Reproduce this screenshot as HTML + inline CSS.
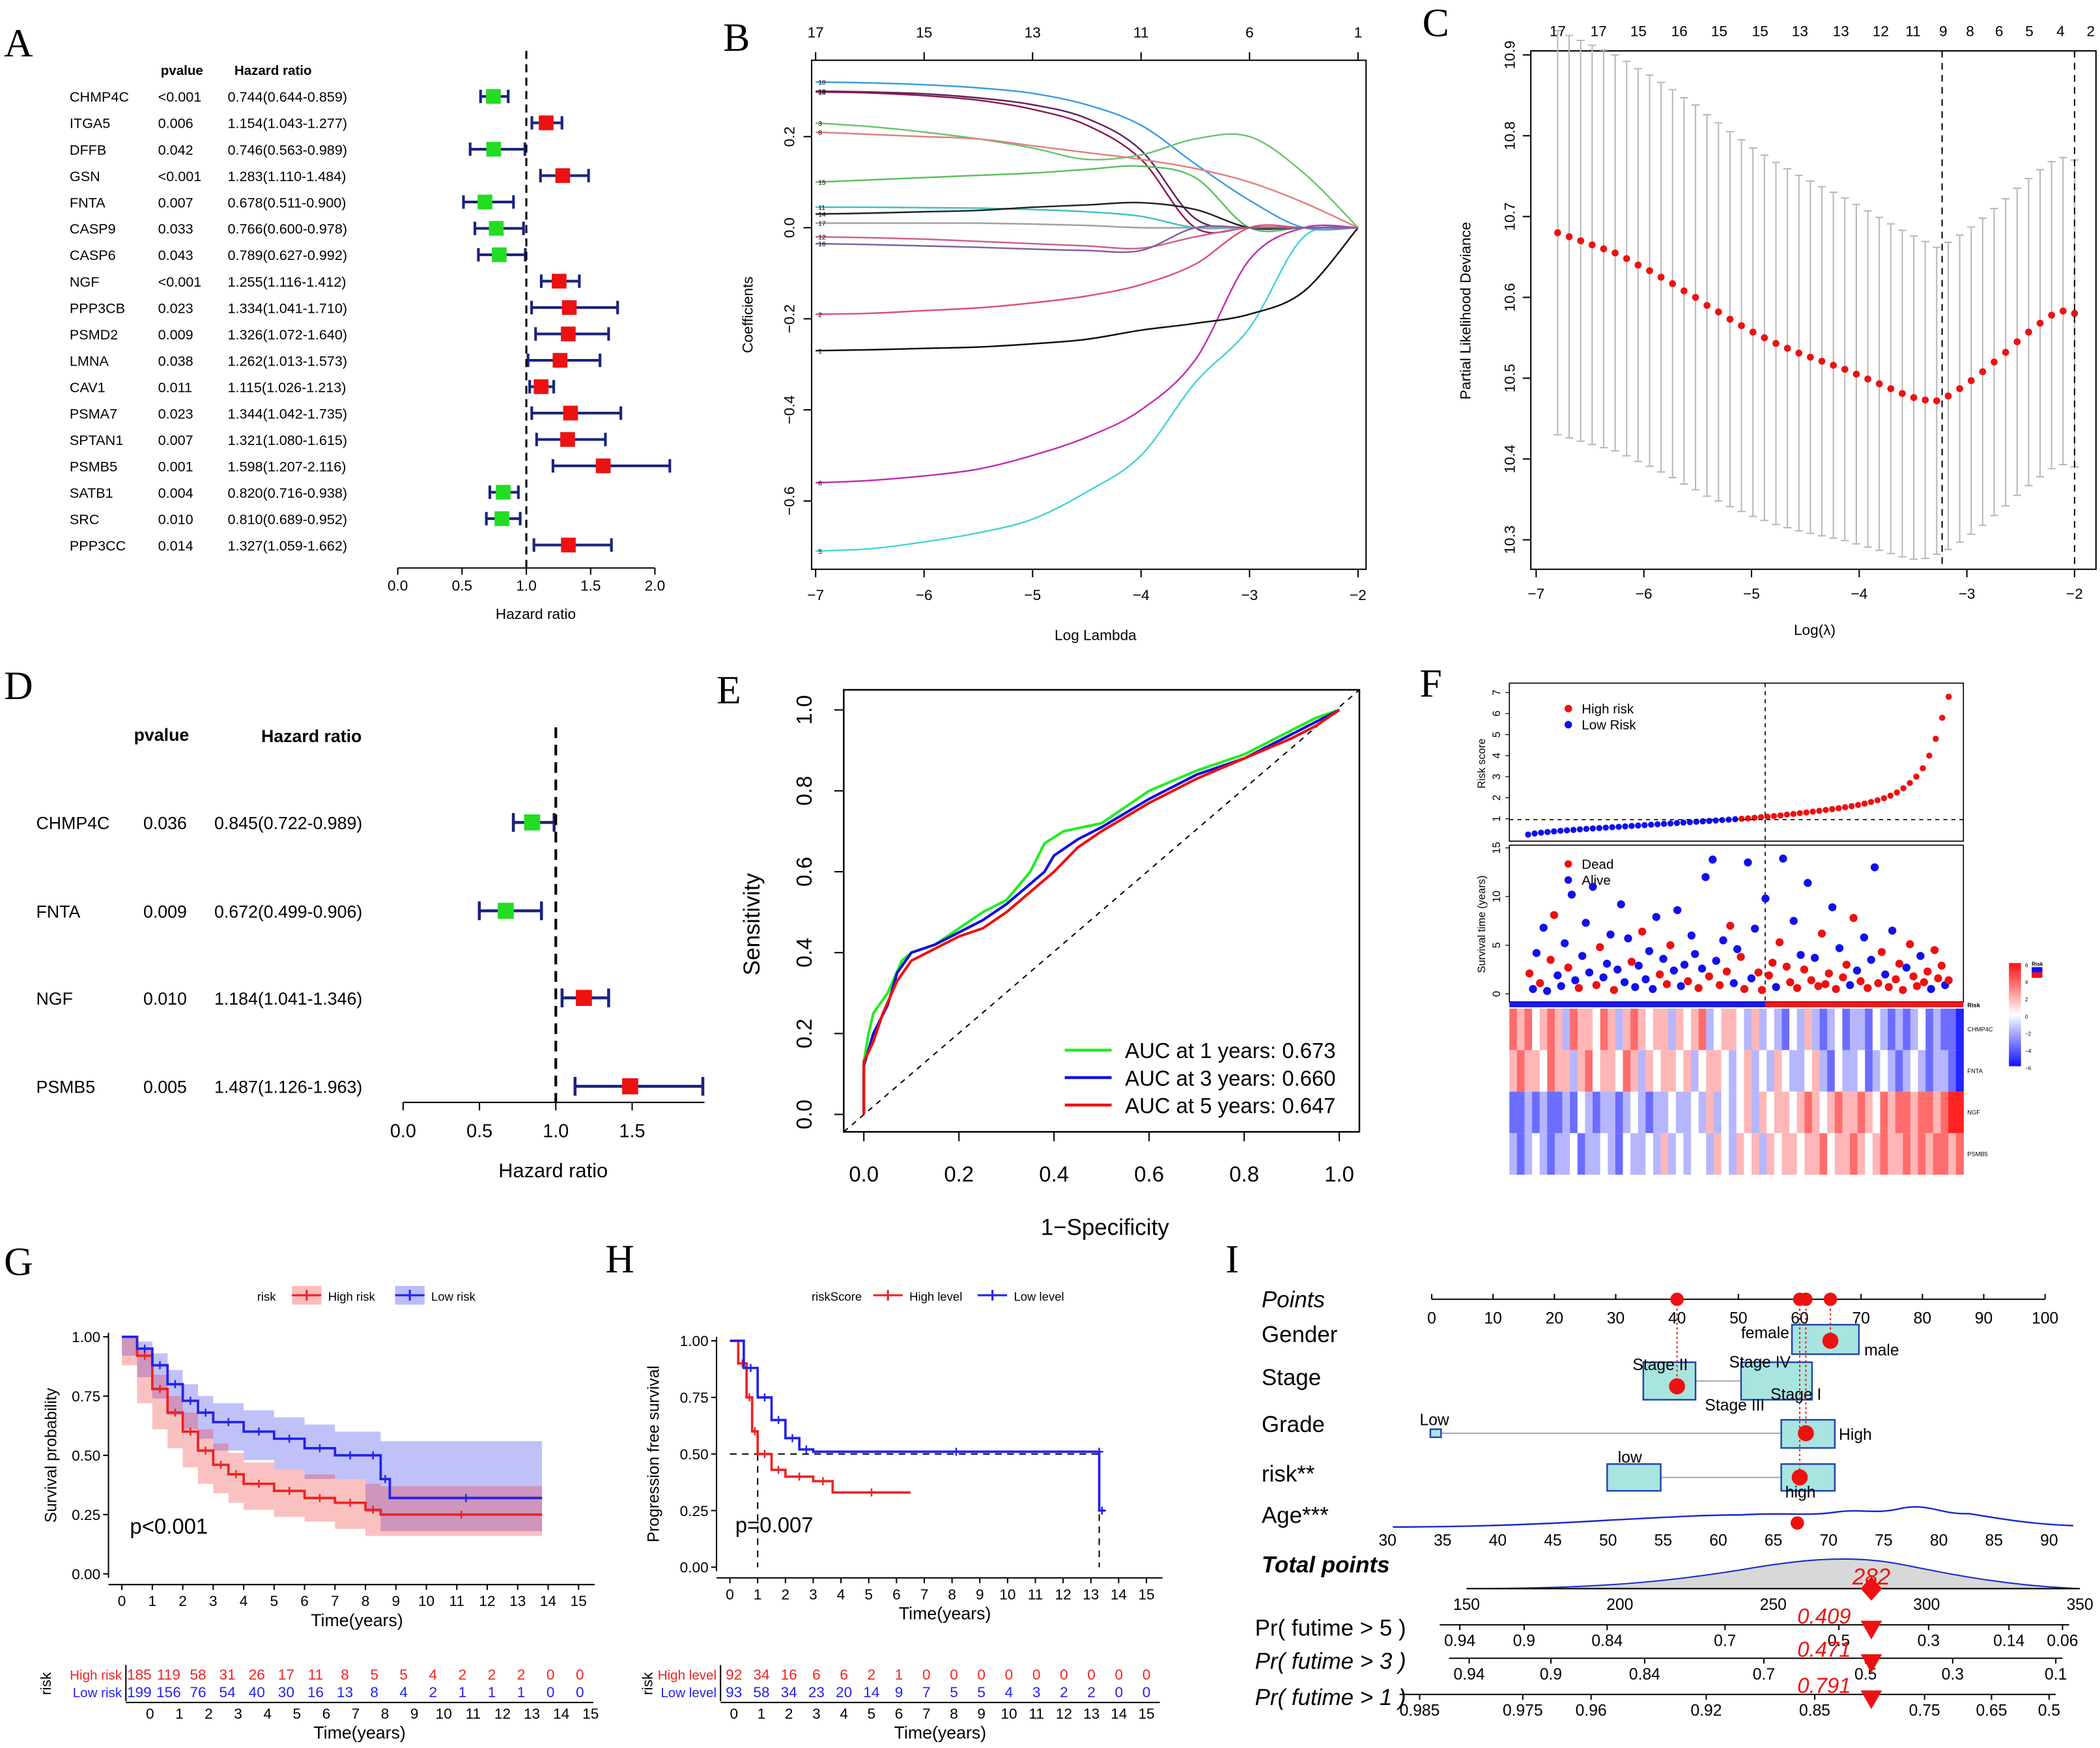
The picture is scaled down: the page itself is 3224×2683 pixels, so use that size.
<!DOCTYPE html>
<html><head><meta charset="utf-8"><style>
html,body{margin:0;padding:0;background:#fff}
svg{display:block;font-family:"Liberation Sans",Arial,sans-serif}
.pl{font-family:"Liberation Serif",serif;font-size:30px}
</style></head><body>
<svg id="fig" width="3224" height="2683" viewBox="0 0 1568 1305" preserveAspectRatio="none" xmlns="http://www.w3.org/2000/svg">
<rect x="0" y="0" width="1568" height="1305" fill="#fff"/>
<text class="pl" x="3" y="42">A</text>
<text class="pl" x="540" y="38">B</text>
<text class="pl" x="1062" y="27">C</text>
<text class="pl" x="3" y="522">D</text>
<text class="pl" x="535" y="525">E</text>
<text class="pl" x="1060" y="520">F</text>
<text class="pl" x="3" y="952">G</text>
<text class="pl" x="452" y="950">H</text>
<text class="pl" x="915" y="950">I</text>
</svg>
<script>
// ---------- DATA ----------
const genesA=['CHMP4C','ITGA5','DFFB','GSN','FNTA','CASP9','CASP6','NGF','PPP3CB','PSMD2','LMNA','CAV1','PSMA7','SPTAN1','PSMB5','SATB1','SRC','PPP3CC'];
const pA=['<0.001','0.006','0.042','<0.001','0.007','0.033','0.043','<0.001','0.023','0.009','0.038','0.011','0.023','0.007','0.001','0.004','0.010','0.014'];
const hrA=[0.744,1.154,0.746,1.283,0.678,0.766,0.789,1.255,1.334,1.326,1.262,1.115,1.344,1.321,1.598,0.820,0.810,1.327];
const loA=[0.644,1.043,0.563,1.110,0.511,0.600,0.627,1.116,1.041,1.072,1.013,1.026,1.042,1.080,1.207,0.716,0.689,1.059];
const hiA=[0.859,1.277,0.989,1.484,0.900,0.978,0.992,1.412,1.710,1.640,1.573,1.213,1.735,1.615,2.116,0.938,0.952,1.662];
const ticksA=[0,0.5,1,1.5,2];

const genesD=['CHMP4C','FNTA','NGF','PSMB5'];
const pD=['0.036','0.009','0.010','0.005'];
const hrD=[0.845,0.672,1.184,1.487];
const loD=[0.722,0.499,1.041,1.126];
const hiD=[0.989,0.906,1.346,1.963];
const ticksD=[0,0.5,1,1.5];

const lamB=[-7,-6.5,-6,-5.5,-5,-4.5,-4,-3.5,-3,-2.5,-2];
const coefB=[
 [-0.71,-0.705,-0.69,-0.67,-0.64,-0.58,-0.50,-0.34,-0.22,-0.02,0],
 [-0.56,-0.555,-0.545,-0.53,-0.50,-0.46,-0.40,-0.29,-0.07,0,0],
 [-0.27,-0.268,-0.265,-0.262,-0.255,-0.245,-0.225,-0.21,-0.19,-0.14,0],
 [-0.19,-0.188,-0.182,-0.176,-0.165,-0.15,-0.125,-0.08,0,0,0],
 [0.32,0.318,0.314,0.307,0.295,0.27,0.225,0.14,0.06,0,0],
 [0.30,0.298,0.294,0.285,0.27,0.24,0.17,0.02,0,0,0],
 [0.298,0.296,0.29,0.28,0.26,0.225,0.15,0,0,0,0],
 [0.23,0.222,0.21,0.195,0.175,0.15,0.16,0.195,0.2,0.12,0],
 [0.21,0.205,0.2,0.195,0.18,0.165,0.15,0.13,0.10,0.055,0],
 [0.10,0.105,0.11,0.115,0.12,0.128,0.135,0.11,0,0,0],
 [0.045,0.045,0.044,0.043,0.04,0.035,0.025,0,0,0,0],
 [0.03,0.032,0.035,0.038,0.045,0.05,0.055,0.04,0,0,0],
 [0.01,0.01,0.01,0.01,0.008,0.005,0,0,0,0,0],
 [-0.02,-0.022,-0.025,-0.03,-0.035,-0.04,-0.045,-0.02,0,0,0],
 [-0.035,-0.037,-0.04,-0.043,-0.047,-0.05,-0.05,0,0,0,0]];
const labB=['5','6','1','2','10','19','18','3','8','15','11','14','17','12','16'];
const colB=['#44d4d4','#c030b0','#111111','#e05070','#3a9ee0','#602060','#8b1a4a','#6cc46c','#e08080','#5cc05c','#40c0c0','#222222','#a0a0a0','#d06090','#8060a0'];
const topB=['17','15','13','11','6','1'];
const topBx=[-7,-6,-5,-4,-3,-2];

const meanC=[10.68,10.675,10.67,10.665,10.66,10.655,10.648,10.64,10.633,10.625,10.617,10.608,10.60,10.59,10.582,10.573,10.565,10.557,10.55,10.543,10.537,10.531,10.526,10.521,10.516,10.511,10.505,10.499,10.493,10.487,10.481,10.476,10.473,10.472,10.478,10.487,10.497,10.508,10.52,10.532,10.545,10.557,10.568,10.578,10.583,10.58];
const seC=[0.25,0.249,0.248,0.247,0.246,0.245,0.244,0.243,0.242,0.241,0.24,0.239,0.238,0.236,0.234,0.232,0.23,0.228,0.226,0.224,0.222,0.22,0.218,0.216,0.214,0.212,0.21,0.208,0.206,0.204,0.202,0.2,0.196,0.19,0.19,0.19,0.19,0.19,0.19,0.19,0.19,0.19,0.19,0.19,0.19,0.19];
const topC=['17','17','15','16','15','15','13','13','12','11','9','8','6','5','4','2'];
const topCx=[-6.8,-6.42,-6.05,-5.67,-5.3,-4.92,-4.55,-4.17,-3.8,-3.5,-3.22,-2.97,-2.7,-2.42,-2.13,-1.85];

const fprG=[0,0,0.01,0.02,0.05,0.08,0.1,0.15,0.2,0.25,0.3,0.35,0.38,0.42,0.5,0.55,0.6,0.7,0.8,0.9,0.95,1];
const tprG=[0,0.13,0.2,0.25,0.3,0.38,0.4,0.42,0.46,0.5,0.53,0.6,0.67,0.7,0.72,0.76,0.8,0.85,0.89,0.95,0.98,1];
const fprBl=[0,0,0.02,0.05,0.07,0.1,0.15,0.2,0.25,0.3,0.35,0.38,0.4,0.45,0.5,0.6,0.7,0.8,0.9,0.95,1];
const tprBl=[0,0.12,0.2,0.27,0.35,0.4,0.42,0.45,0.48,0.52,0.57,0.6,0.64,0.68,0.71,0.78,0.84,0.88,0.94,0.97,1];
const fprR=[0,0,0.02,0.04,0.07,0.1,0.15,0.2,0.25,0.3,0.35,0.4,0.45,0.5,0.6,0.7,0.8,0.9,0.95,1];
const tprR=[0,0.13,0.18,0.25,0.33,0.38,0.41,0.44,0.46,0.5,0.55,0.6,0.66,0.7,0.77,0.83,0.88,0.93,0.96,1];
const aucLabels=['AUC at 1 years: 0.673','AUC at 3 years: 0.660','AUC at 5 years: 0.647'];

const riskF=[0.25,0.3,0.34,0.37,0.4,0.43,0.45,0.47,0.5,0.52,0.54,0.56,0.58,0.6,0.62,0.64,0.66,0.68,0.7,0.72,0.74,0.76,0.78,0.8,0.82,0.84,0.86,0.88,0.9,0.92,0.94,0.96,0.98,1.0,1.02,1.05,1.08,1.1,1.13,1.16,1.2,1.23,1.27,1.3,1.34,1.38,1.42,1.46,1.5,1.55,1.6,1.66,1.72,1.8,1.88,1.98,2.1,2.25,2.45,2.7,3.0,3.4,4.0,4.8,5.8,6.8];
const survT=[2.1,0.5,4.2,1.1,6.8,0.3,3.5,8.1,1.9,0.8,5.2,2.7,10.2,1.4,0.6,3.9,7.3,2.2,11.0,0.9,4.8,1.7,3.1,6.1,0.4,2.5,9.2,1.2,5.7,3.3,0.7,2.9,6.4,1.5,4.4,0.5,7.9,2.0,3.6,1.0,5.0,2.4,8.6,0.8,3.0,1.3,6.0,4.1,0.6,2.6,12.0,1.8,13.8,3.4,0.9,5.5,2.3,7.0,1.1,4.6,
 3.8,0.5,13.5,1.6,6.7,2.2,0.4,9.8,1.9,3.2,0.7,5.3,13.9,2.8,1.2,7.5,0.6,4.0,2.5,11.4,1.4,3.7,0.8,6.2,1.0,2.1,8.9,0.5,4.7,1.7,3.0,0.9,7.8,2.4,1.3,5.8,0.6,3.5,13.0,1.1,4.3,2.0,0.7,6.5,1.5,3.1,0.4,2.7,5.1,1.8,0.8,3.9,1.2,2.3,0.5,4.5,1.6,2.9,0.9,1.4];
const survS=[1,0,0,1,0,0,1,1,0,0,0,1,0,0,1,0,0,0,0,1,1,0,0,0,1,0,0,0,0,1,0,0,1,0,0,0,0,1,0,1,1,0,0,0,0,1,0,0,1,0,0,1,0,0,1,0,1,1,0,0,
 1,1,0,0,0,1,1,0,1,1,0,1,0,1,1,0,1,0,1,0,1,0,1,1,1,1,0,1,0,1,1,0,1,0,1,0,1,0,0,1,1,0,1,0,1,1,1,0,1,1,1,0,1,1,0,1,1,1,0,1];
const heatGenes=['CHMP4C','FNTA','NGF','PSMB5'];
const heatV=[
 [2,1,2,0,1,2,1,-1,2,1,1,0,2,1,-1,1,2,1,0,1,1,-1,1,0,1,2,-1,0,1,1,0,-1,1,-1,0,-1,-2,0,-1,1,-1,-2,-1,0,-2,-1,-1,-2,0,-1,-2,-1,-2,-1,0,-2,-1,-2,-2,-3],
 [1,2,1,1,0,2,1,1,-1,1,2,0,1,1,0,2,1,-1,1,0,1,1,0,1,-1,0,1,1,0,-1,0,1,-1,0,-1,1,0,-1,-1,0,1,-1,-2,0,-1,-1,0,-2,-1,0,-1,-2,-1,0,-1,-2,-1,-1,-2,-3],
 [-2,-2,-1,-2,-1,-2,-2,-1,-2,0,-1,-2,-1,-1,-2,-1,0,-1,-2,-1,-1,0,-1,-1,0,-1,1,-1,0,-1,0,1,-1,1,0,1,1,0,1,2,1,0,1,2,1,1,2,1,0,2,1,2,2,1,2,2,1,2,3,3],
 [-1,-2,-1,0,-1,-2,-1,-1,0,-2,-1,-1,0,-1,-2,0,-1,-1,0,-1,1,-1,0,-1,0,0,-1,1,0,-1,1,0,1,-1,1,0,1,1,0,1,1,2,0,1,1,2,1,0,1,2,1,1,2,1,2,1,2,2,1,2]];

const tHighG=[0,0.5,1,1.5,2,2.5,3,3.5,4,5,6,7,8,8.5,13.8];
const sHighG=[1,0.92,0.78,0.68,0.6,0.52,0.46,0.42,0.38,0.35,0.32,0.3,0.27,0.25,0.25];
const uHighG=[1,0.95,0.84,0.75,0.68,0.61,0.55,0.51,0.47,0.44,0.42,0.4,0.38,0.37,0.37];
const lHighG=[1,0.88,0.72,0.61,0.53,0.45,0.38,0.34,0.3,0.27,0.24,0.22,0.19,0.16,0.16];
const tLowG=[0,0.5,1,1.5,2,2.5,3,4,5,6,7,8,8.5,8.8,13.8];
const sLowG=[1,0.95,0.88,0.8,0.73,0.68,0.64,0.6,0.57,0.53,0.5,0.5,0.4,0.32,0.32];
const uLowG=[1,0.98,0.93,0.86,0.8,0.75,0.72,0.69,0.66,0.63,0.6,0.6,0.56,0.56,0.56];
const lLowG=[1,0.92,0.83,0.74,0.67,0.61,0.57,0.52,0.48,0.44,0.4,0.4,0.26,0.18,0.18];
const nHighG=[185,119,58,31,26,17,11,8,5,5,4,2,2,2,0,0];
const nLowG=[199,156,76,54,40,30,16,13,8,4,2,1,1,1,0,0];

const tHighH=[0,0.3,0.6,0.8,1,1.5,2,3,3.7,6.5];
const sHighH=[1,0.9,0.75,0.6,0.5,0.43,0.4,0.38,0.33,0.33];
const tLowH=[0,0.5,1,1.5,2,2.5,3,13.3,13.3,13.5];
const sLowH=[1,0.88,0.75,0.65,0.57,0.52,0.51,0.51,0.25,0.25];
const nHighH=[92,34,16,6,6,2,1,0,0,0,0,0,0,0,0,0];
const nLowH=[93,58,34,23,20,14,9,7,5,5,4,3,2,2,0,0];

const ptsI=[65,40,61,60];
const ageTicks=[30,35,40,45,50,55,60,65,70,75,80,85,90];
const totTicks=[150,200,250,300,350];
const pr5Lab=['0.94','0.9','0.84','0.7','0.5','0.3','0.14','0.06'];
const pr5X=[1090,1138,1200,1288,1373,1440,1500,1540];
const pr3Lab=['0.94','0.9','0.84','0.7','0.5','0.3','0.1'];
const pr3X=[1097,1158,1228,1317,1393,1458,1535];
const pr1Lab=['0.985','0.975','0.96','0.92','0.85','0.75','0.65','0.5'];
const pr1X=[1060,1137,1188,1274,1355,1437,1487,1530];
const totalI=282;

// ---------- HELPERS ----------
const S=document.getElementById('fig');
const NS='http://www.w3.org/2000/svg';
function mk(p,t,a,txt){const e=document.createElementNS(NS,t);for(const k in a)e.setAttribute(k,a[k]);if(txt!==undefined)e.textContent=txt;p.appendChild(e);return e;}
function lin(d0,d1,r0,r1){return v=>r0+(v-d0)*(r1-r0)/(d1-d0);}
function G(){return mk(S,'g',{});}
function smooth(pts){let d='M'+pts[0][0]+','+pts[0][1];for(let i=0;i<pts.length-1;i++){const p0=pts[Math.max(0,i-1)],p1=pts[i],p2=pts[i+1],p3=pts[Math.min(pts.length-1,i+2)];d+=' C'+(p1[0]+(p2[0]-p0[0])/6)+','+(p1[1]+(p2[1]-p0[1])/6)+' '+(p2[0]-(p3[0]-p1[0])/6)+','+(p2[1]-(p3[1]-p1[1])/6)+' '+p2[0]+','+p2[1];}return d;}
function stepPath(ts,ss,x,y){let d='M'+x(ts[0])+','+y(ss[0]);for(let i=1;i<ts.length;i++){d+=' H'+x(ts[i])+' V'+y(ss[i]);}return d;}
function txt(p,x,y,s,size,o){const a=Object.assign({x:x,y:y,'font-size':size},o||{});return mk(p,'text',a,s);}

// ---------- PANEL A ----------
(function(){
 const g=G();
 
 
 const x=lin(0,2,297,489);
 const rowY=i=>72+i*19.7;
 let h=txt(g,120,56,'pvalue',10,{'font-weight':'bold'});
 
 
 h=txt(g,175,56,'Hazard ratio',10,{'font-weight':'bold'});
 
 
 genesA.forEach((gn,i)=>{
  const y=rowY(i);
  let t=txt(g,52,y+4,gn,10.5);
  
  
  t=txt(g,118,y+4,pA[i],10.5);
  
  
  t=txt(g,170,y+4,hrA[i].toFixed(3)+'('+loA[i].toFixed(3)+'-'+hiA[i].toFixed(3)+')',10.5);
  
  
  const ci=mk(g,'path',{d:'M'+x(loA[i])+','+y+' H'+x(hiA[i])+' M'+x(loA[i])+','+(y-5)+' V'+(y+5)+' M'+x(hiA[i])+','+(y-5)+' V'+(y+5),stroke:'#1a237e','stroke-width':2,fill:'none'});
  
  
  const sq=mk(g,'rect',{x:x(hrA[i])-5.5,y:y-5.5,width:11,height:11,fill:hrA[i]<1?'#22dd22':'#ee1111'});
  
  
 });
 const dl=mk(g,'line',{x1:x(1),x2:x(1),y1:38,y2:424,stroke:'#000','stroke-width':1.5,'stroke-dasharray':'6,4'});
 
 
 const ax=mk(g,'line',{x1:x(0),x2:x(2),y1:424,y2:424,stroke:'#000'});
 
 
 ticksA.forEach(v=>{
  const tk=mk(g,'line',{x1:x(v),x2:x(v),y1:424,y2:429,stroke:'#000'});
  
  
  const tl=txt(g,x(v),441,v.toFixed(1),11,{'text-anchor':'middle'});
  
  
 });
 const at=txt(g,400,462,'Hazard ratio',11,{'text-anchor':'middle'});
 
 
})();

// ---------- PANEL D ----------
(function(){
 const g=G();
 
 
 const x=lin(0,1.5,301,472);
 const rows=[614,680,745,811];
 let h=txt(g,100,553,'pvalue',13,{'font-weight':'bold'});
 
 
 h=txt(g,195,554,'Hazard ratio',13,{'font-weight':'bold'});
 
 
 genesD.forEach((gn,i)=>{
  const y=rows[i];
  let t=txt(g,27,y+5,gn,13);
  
  
  t=txt(g,107,y+5,pD[i],13);
  
  
  t=txt(g,160,y+5,hrD[i].toFixed(3)+'('+loD[i].toFixed(3)+'-'+hiD[i].toFixed(3)+')',13);
  
  
  const ci=mk(g,'path',{d:'M'+x(loD[i])+','+y+' H'+x(hiD[i])+' M'+x(loD[i])+','+(y-7)+' V'+(y+7)+' M'+x(hiD[i])+','+(y-7)+' V'+(y+7),stroke:'#1a237e','stroke-width':2.2,fill:'none'});
  
  
  const sq=mk(g,'rect',{x:x(hrD[i])-6,y:y-6,width:12,height:12,fill:hrD[i]<1?'#22dd22':'#ee1111'});
  
  
 });
 const dl=mk(g,'line',{x1:x(1),x2:x(1),y1:543,y2:823,stroke:'#000','stroke-width':2,'stroke-dasharray':'8,5'});
 
 
 const ax=mk(g,'line',{x1:x(0),x2:526,y1:823,y2:823,stroke:'#000'});
 
 
 ticksD.forEach(v=>{
  const tk=mk(g,'line',{x1:x(v),x2:x(v),y1:823,y2:829,stroke:'#000'});
  
  
  const tl=txt(g,x(v),849,v.toFixed(1),14,{'text-anchor':'middle'});
  
  
 });
 const at=txt(g,413,879,'Hazard ratio',15,{'text-anchor':'middle'});
 
 
})();

// ---------- PANEL B ----------
(function(){
 const g=G();
 
 
 const x=lin(-7,-2,609,1014), y=lin(0,0.2,170,102);
 const fr=mk(g,'rect',{x:606,y:45,width:414,height:380,fill:'none',stroke:'#000'});
 
 
 coefB.forEach((c,k)=>{
  const p=mk(g,'path',{d:smooth(lamB.map((l,i)=>[x(l),y(c[i])])),fill:'none',stroke:colB[k],'stroke-width':1.2});
  
  
  const lb=txt(g,611,y(c[0])+2,labB[k],5);
  
  
 });
 [-7,-6,-5,-4,-3,-2].forEach(v=>{
  const tk=mk(g,'line',{x1:x(v),x2:x(v),y1:425,y2:431,stroke:'#000'});
  
  
  const tl=txt(g,x(v),448,String(v).replace('-','−'),11,{'text-anchor':'middle'});
  
  
 });
 topB.forEach((s,i)=>{
  const tk=mk(g,'line',{x1:x(topBx[i]),x2:x(topBx[i]),y1:45,y2:39,stroke:'#000'});
  
  
  const tl=txt(g,x(topBx[i]),28,s,11,{'text-anchor':'middle'});
  
  
 });
 [0.2,0,-0.2,-0.4,-0.6].forEach(v=>{
  const tk=mk(g,'line',{x1:600,x2:606,y1:y(v),y2:y(v),stroke:'#000'});
  
  
  const tl=txt(g,0,0,(v<0?'−':'')+Math.abs(v).toFixed(1),11,{'text-anchor':'middle',transform:'translate(593,'+y(v)+') rotate(-90)'});
  
  
 });
 const yt=txt(g,0,0,'Coefficients',11,{'text-anchor':'middle',transform:'translate(562,235) rotate(-90)'});
 
 
 const xt=txt(g,818,478,'Log Lambda',11,{'text-anchor':'middle'});
 
 
})();

// ---------- PANEL C ----------
(function(){
 const g=G();
 
 
 const x=lin(-7,-2,1147,1549), y=lin(10.3,10.9,403,41);
 const fr=mk(g,'rect',{x:1143,y:38,width:422,height:387,fill:'none',stroke:'#000'});
 
 
 meanC.forEach((m,i)=>{
  const l=-6.8+i*(4.8/(meanC.length-1));
  const xx=x(l), up=y(m+seC[i]), lo=y(m-seC[i]);
  const eb=mk(g,'path',{d:'M'+xx+','+up+' V'+lo+' M'+(xx-3)+','+up+' H'+(xx+3)+' M'+(xx-3)+','+lo+' H'+(xx+3),stroke:'#b8b8b8','stroke-width':1,fill:'none'});
  
  
 });
 meanC.forEach((m,i)=>{
  const l=-6.8+i*(4.8/(meanC.length-1));
  const d=mk(g,'circle',{cx:x(l),cy:y(m),r:2.6,fill:'#ee1111'});
  
  
 });
 [-3.23,-2.0].forEach(v=>{
  const dl=mk(g,'line',{x1:x(v),x2:x(v),y1:38,y2:425,stroke:'#000','stroke-dasharray':'5,4'});
  
  
 });
 [-7,-6,-5,-4,-3,-2].forEach(v=>{
  const tk=mk(g,'line',{x1:x(v),x2:x(v),y1:425,y2:431,stroke:'#000'});
  
  
  const tl=txt(g,x(v),447,String(v).replace('-','−'),11,{'text-anchor':'middle'});
  
  
 });
 topC.forEach((s,i)=>{
  const tl=txt(g,x(topCx[i]),27,s,11,{'text-anchor':'middle'});
  
  
 });
 [10.3,10.4,10.5,10.6,10.7,10.8,10.9].forEach(v=>{
  const tk=mk(g,'line',{x1:1137,x2:1143,y1:y(v),y2:y(v),stroke:'#000'});
  
  
  const tl=txt(g,0,0,v.toFixed(1),11,{'text-anchor':'middle',transform:'translate(1131,'+y(v)+') rotate(-90)'});
  
  
 });
 const yt=txt(g,0,0,'Partial Likelihood Deviance',11,{'text-anchor':'middle',transform:'translate(1098,232) rotate(-90)'});
 
 
 const xt=txt(g,1355,474,'Log(λ)',11,{'text-anchor':'middle'});
 
 
})();

// ---------- PANEL E ----------
(function(){
 const g=G();
 
 
 const x=lin(0,1,645,1000), y=lin(0,1,832,530);
 const fr=mk(g,'rect',{x:630,y:515,width:385,height:330,fill:'none',stroke:'#000','stroke-width':1.2});
 
 
 const dg=mk(g,'line',{x1:630,y1:845,x2:1015,y2:515,stroke:'#000','stroke-dasharray':'4,4'});
 
 
 [[fprG,tprG,'#22ee22','roc-1-year'],[fprBl,tprBl,'#1111dd','roc-3-year'],[fprR,tprR,'#ee1111','roc-5-year']].forEach(s=>{
  let d='M'+x(s[0][0])+','+y(s[1][0]);
  for(let i=1;i<s[0].length;i++){d+=' L'+x(s[0][i])+','+y(s[1][i]);}
  const p=mk(g,'path',{d:d,fill:'none',stroke:s[2],'stroke-width':2});
  
  
 });
 [0,0.2,0.4,0.6,0.8,1].forEach(v=>{
  const tk=mk(g,'line',{x1:x(v),x2:x(v),y1:845,y2:852,stroke:'#000'});
  
  
  const tl=txt(g,x(v),882,v.toFixed(1),16,{'text-anchor':'middle'});
  
  
  const ty=mk(g,'line',{x1:623,x2:630,y1:y(v),y2:y(v),stroke:'#000'});
  
  
  const yl=txt(g,0,0,v.toFixed(1),16,{'text-anchor':'middle',transform:'translate(606,'+y(v)+') rotate(-90)'});
  
  
 });
 const yt=txt(g,0,0,'Sensitivity',17,{'text-anchor':'middle',transform:'translate(567,690) rotate(-90)'});
 
 
 const xt=txt(g,825,922,'1−Specificity',17,{'text-anchor':'middle'});
 
 
 ['#22ee22','#1111dd','#ee1111'].forEach((c,i)=>{
  const ln=mk(g,'line',{x1:795,x2:830,y1:784+i*20.5,y2:784+i*20.5,stroke:c,'stroke-width':2.2});
  
  
  const lt=txt(g,840,790+i*20.5,aucLabels[i],16);
  
  
 });
})();

// ---------- PANEL F ----------
(function(){
 const g=G();
 
 
 const n=riskF.length;
 const xi=lin(0,n-1,1141,1455), y=lin(0,7,627,517);
 const f1=mk(g,'rect',{x:1127,y:510,width:339,height:118,fill:'none',stroke:'#000','stroke-width':0.8});
 
 
 riskF.forEach((v,i)=>{
  const c=mk(g,'circle',{cx:xi(i),cy:y(v),r:2.3,fill:i<n/2?'#1010ee':'#ee1010'});
  
  
 });
 const hl=mk(g,'line',{x1:1127,x2:1466,y1:y(0.96),y2:y(0.96),stroke:'#000','stroke-width':0.8,'stroke-dasharray':'3,3'});
 
 
 const vl=mk(g,'line',{x1:1318,x2:1318,y1:510,y2:748,stroke:'#000','stroke-width':0.8,'stroke-dasharray':'3,3'});
 
 
 [1,2,3,4,5,6,7].forEach(v=>{
  const tk=mk(g,'line',{x1:1124,x2:1127,y1:y(v),y2:y(v),stroke:'#000','stroke-width':0.6});
  
  
  const tl=txt(g,0,0,String(v),8,{'text-anchor':'middle',transform:'translate(1120,'+y(v)+') rotate(-90)'});
  
  
 });
 let t=txt(g,0,0,'Risk score',8,{'text-anchor':'middle',transform:'translate(1109,570) rotate(-90)'});
 
 
 [['#ee1010','High risk',529],['#1010ee','Low Risk',541],['#ee1010','Dead',645],['#1010ee','Alive',657]].forEach(l=>{
  const c=mk(g,'circle',{cx:1171,cy:l[2],r:2.8,fill:l[0]});
  
  
  const lt=txt(g,1181,l[2]+3.5,l[1],10);
  
  
 });
 const ys=lin(0,15,742,633);
 const f2=mk(g,'rect',{x:1127,y:631,width:339,height:117,fill:'none',stroke:'#000','stroke-width':0.8});
 
 
 const m=survT.length, xs=lin(0,m-1,1142,1455);
 survT.forEach((v,i)=>{
  const c=mk(g,'circle',{cx:xs(i),cy:ys(v),r:3,fill:survS[i]?'#ee1010':'#1010ee'});
  
  
 });
 [0,5,10,15].forEach(v=>{
  const tk=mk(g,'line',{x1:1124,x2:1127,y1:ys(v),y2:ys(v),stroke:'#000','stroke-width':0.6});
  
  
  const tl=txt(g,0,0,String(v),8,{'text-anchor':'middle',transform:'translate(1120,'+ys(v)+') rotate(-90)'});
  
  
 });
 t=txt(g,0,0,'Survival time (years)',8,{'text-anchor':'middle',transform:'translate(1109,690) rotate(-90)'});
 
 
 const rb1=mk(g,'rect',{x:1127,y:748,width:191,height:4,fill:'#1a1aee'});
 
 
 const rb2=mk(g,'rect',{x:1318,y:748,width:148,height:4,fill:'#ee1a1a'});
 
 
 t=txt(g,1469,752,'Risk',4.5,{'font-weight':'bold'});
 
 
 function col(v){const a=Math.min(1,Math.abs(v)/3.2);const w=Math.round(255*(1-a*0.92));return v>=0?'rgb(255,'+w+','+w+')':'rgb('+w+','+w+',255)';}
 const cw=339/heatV[0].length;
 heatV.forEach((row,r)=>{
  row.forEach((v,c)=>{
   const cell=mk(g,'rect',{x:1127+c*cw,y:753+r*31,width:cw+0.3,height:31,fill:col(v)});
   
   
  });
  const gl=txt(g,1469,770+r*31,heatGenes[r],4.5);
  
  
 });
 const defs=mk(g,'defs',{});
 const lg=mk(defs,'linearGradient',{id:'hmg',x1:0,y1:0,x2:0,y2:1});
 mk(lg,'stop',{offset:'0','stop-color':'#ff1010'});
 mk(lg,'stop',{offset:'0.5','stop-color':'#ffffff'});
 mk(lg,'stop',{offset:'1','stop-color':'#1010ff'});
 const cb=mk(g,'rect',{x:1500,y:719,width:9,height:77,fill:'url(#hmg)'});
 
 
 ['6','4','2','0','−2','−4','−6'].forEach((s,i)=>{
  const cl=txt(g,1512,722+i*12.8,s,4);
  
  
 });
 const lb=mk(g,'rect',{x:1517,y:722,width:8,height:4,fill:'#1010ee'});
 
 
 const hb=mk(g,'rect',{x:1517,y:726,width:8,height:4,fill:'#ee1010'});
 
 
 t=txt(g,1517,721,'Risk',4,{'font-weight':'bold'});
 
 
})();

// ---------- KM helper ----------
function kmPanel(cfg){
 const g=G();
 
 
 const x=lin(0,15,cfg.x0,cfg.x15), y=lin(0,1,cfg.y0,cfg.y1);
 if(cfg.bands){cfg.bands.forEach(b=>{
  let d='M'+x(b.t[0])+','+y(b.u[0]);
  for(let i=1;i<b.t.length;i++){d+=' H'+x(b.t[i])+' V'+y(b.u[i]);}
  for(let i=b.t.length-1;i>0;i--){d+=' V'+y(b.l[i])+' H'+x(b.t[i-1]);}
  d+=' V'+y(b.l[0])+' Z';
  const p=mk(g,'path',{d:d,fill:b.c,'fill-opacity':0.3,stroke:'none'});
  
  
 });}
 if(cfg.extra)cfg.extra(g,x,y);
 cfg.curves.forEach(c=>{
  const p=mk(g,'path',{d:stepPath(c.t,c.s,x,y),fill:'none',stroke:c.c,'stroke-width':1.8});
  
  
  for(let i=1;i<c.t.length-1;i++){
   const cx=(x(c.t[i])+x(c.t[i+1]))/2, cy=y(c.s[i]);
   const m=mk(g,'path',{d:'M'+(cx-3)+','+cy+' H'+(cx+3)+' M'+cx+','+(cy-3)+' V'+(cy+3),stroke:c.c,'stroke-width':1.2});
   
   
  }
 });
 const ay=mk(g,'line',{x1:cfg.x0-10,x2:cfg.x0-10,y1:y(1)-3,y2:y(0)+3,stroke:'#000'});
 
 
 const axx=mk(g,'line',{x1:cfg.x0-10,x2:cfg.x15+12,y1:y(0)+8,y2:y(0)+8,stroke:'#000'});
 
 
 [0,0.25,0.5,0.75,1].forEach(v=>{
  const tk=mk(g,'line',{x1:cfg.x0-14,x2:cfg.x0-10,y1:y(v),y2:y(v),stroke:'#000'});
  
  
  const tl=txt(g,cfg.x0-16,y(v)+4,v.toFixed(2),11,{'text-anchor':'end'});
  
  
 });
 for(let v=0;v<=15;v++){
  const tk=mk(g,'line',{x1:x(v),x2:x(v),y1:y(0)+8,y2:y(0)+12,stroke:'#000'});
  
  
  const tl=txt(g,x(v),y(0)+24,String(v),11,{'text-anchor':'middle'});
  
  
 }
 let t=txt(g,0,0,cfg.ytitle,12,{'text-anchor':'middle',transform:'translate('+cfg.ytx+','+(y(0.5))+') rotate(-90)'});
 
 
 t=txt(g,(cfg.x0+cfg.x15)/2+5,y(0)+39,'Time(years)',13,{'text-anchor':'middle'});
 
 
 t=txt(g,cfg.px,cfg.py,cfg.ptext,16);
 
 
 t=txt(g,cfg.lgx,971,cfg.lgTitle,9);
 
 
 cfg.curves.forEach((c,i)=>{
  const lx=cfg.lgx+cfg.lgOff[i];
  if(cfg.bands){const bx=mk(g,'rect',{x:lx,y:960,width:22,height:14,fill:c.c,'fill-opacity':0.3});
   
   }
  const ln=mk(g,'path',{d:'M'+lx+',967 H'+(lx+22)+' M'+(lx+11)+',963 V971',stroke:c.c,'stroke-width':1.5});
  
  
  const lt=txt(g,lx+27,971,c.label,9);
  
  
 });
 const tx=lin(0,15,cfg.tx0,cfg.tx15);
 cfg.curves.forEach((c,r)=>{
  const yy=cfg.ty+r*13;
  const rl=txt(g,cfg.tx0-13,yy+4,c.tlabel,10,{'text-anchor':'end',fill:c.c});
  
  
  c.n.forEach((v,i)=>{
   const nt=txt(g,tx(i),yy+4,String(v),11,{'text-anchor':'middle',fill:c.c});
   
   
  });
 });
 const tl=mk(g,'line',{x1:cfg.tx0-10,x2:cfg.tx0-10,y1:cfg.ty-7,y2:cfg.ty+20,stroke:'#000'});
 
 
 const tb=mk(g,'line',{x1:cfg.tx0-10,x2:cfg.tx15+10,y1:cfg.ty+21,y2:cfg.ty+21,stroke:'#000'});
 
 
 for(let v=0;v<=15;v++){
  const tk=txt(g,tx(v)+(cfg.tshift||0),cfg.ty+33,String(v),11,{'text-anchor':'middle'});
  
  
 }
 t=txt(g,0,0,'risk',11,{'text-anchor':'middle',transform:'translate('+cfg.rtx+','+(cfg.ty+7)+') rotate(-90)'});
 
 
 t=txt(g,(cfg.tx0+cfg.tx15)/2,cfg.ty+48,'Time(years)',13,{'text-anchor':'middle'});
 
 
}
kmPanel({name:'panel-g-km-os',x0:91,x15:432,y0:1175,y1:998,ytitle:'Survival probability',ytx:42,px:97,py:1145,ptext:'p<0.001',
 lgx:192,lgTitle:'risk',lgOff:[26,103],
 bands:[{t:tLowG,u:uLowG,l:lLowG,c:'#3333ee'},{t:tHighG,u:uHighG,l:lHighG,c:'#ee3333'}],
 curves:[{t:tHighG,s:sHighG,c:'#ee2222',label:'High risk',tlabel:'High risk',n:nHighG},{t:tLowG,s:sLowG,c:'#2222ee',label:'Low risk',tlabel:'Low risk',n:nLowG}],
 tx0:104,tx15:433,ty:1250,rtx:38,tshift:8});
kmPanel({name:'panel-h-km-pfs',x0:545,x15:856,y0:1170,y1:1001,ytitle:'Progression free survival',ytx:492,px:549,py:1144,ptext:'p=0.007',
 lgx:606,lgTitle:'riskScore',lgOff:[46,124],
 curves:[{t:tHighH,s:sHighH,c:'#ee2222',label:'High level',tlabel:'High level',n:nHighH},{t:tLowH,s:sLowH,c:'#2222ee',label:'Low level',tlabel:'Low level',n:nLowH}],
 extra:function(g,x,y){
  const d=mk(g,'path',{d:'M'+x(0)+','+y(0.5)+' H'+x(13.3)+' M'+x(1)+','+y(0.5)+' V'+y(0)+' M'+x(13.3)+','+y(0.5)+' V'+y(0),stroke:'#000','stroke-dasharray':'5,4',fill:'none'});
  
  
 },
 tx0:548,tx15:856,ty:1250,rtx:487,tshift:0});

// ---------- PANEL I ----------
(function(){
 const g=G();
 
 
 const px=lin(0,100,1069,1527);
 const lab=[['Points',976,'italic','normal'],['Gender',1002,'normal','normal'],['Stage',1034,'normal','normal'],['Grade',1069,'normal','normal'],['risk**',1106,'normal','normal'],['Age***',1137,'normal','normal'],['Total points',1174,'italic','bold']];
 lab.forEach(l=>{
  const t=txt(g,942,l[1],l[0],17,{'font-style':l[2],'font-weight':l[3]});
  
  
 });
 let ax=mk(g,'line',{x1:px(0),x2:px(100),y1:970,y2:970,stroke:'#000'});
 
 
 for(let v=0;v<=100;v+=10){
  const tk=mk(g,'line',{x1:px(v),x2:px(v),y1:966,y2:970,stroke:'#000'});
  
  
  const tl=txt(g,px(v),988,String(v),12,{'text-anchor':'middle'});
  
  
 }
 const boxes=[[1338,989,50,22],[1227,1017,39,28],[1300,1017,53,28],[1068,1067,8,6],[1330,1060,40,21],[1200,1093,40,20],[1330,1093,40,20]];
 const conn=[[1266,1300,1031],[1076,1330,1070],[1240,1330,1103]];
 conn.forEach(c=>{
  const l=mk(g,'line',{x1:c[0],x2:c[1],y1:c[2],y2:c[2],stroke:'#aaa'});
  
  
 });
 boxes.forEach(b=>{
  const r=mk(g,'rect',{x:b[0],y:b[1],width:b[2],height:b[3],fill:'#a8e4e0',stroke:'#2244aa','stroke-width':1.2});
  
  
 });
 const cl=[['female',1300,999],['male',1392,1012],['Stage II',1219,1023],['Stage IV',1291,1021],['Stage III',1273,1053],['Stage I',1322,1045],['Low',1060,1064],['High',1373,1075],['low',1208,1092],['high',1333,1118]];
 cl.forEach(c=>{
  const t=txt(g,c[1],c[2],c[0],12);
  
  
 });
 const ad=mk(g,'path',{d:'M1040,1140 C1100,1140 1150,1138 1200,1135 C1240,1133 1270,1131 1300,1131 C1330,1129 1350,1132 1370,1129 C1390,1126 1400,1131 1420,1126 C1440,1122 1450,1131 1470,1130 C1500,1135 1520,1138 1548,1139',fill:'none',stroke:'#1a2acc','stroke-width':1.2});
 
 
 const agx=lin(30,90,1036,1530);
 ageTicks.forEach(v=>{
  const tl=txt(g,agx(v),1154,String(v),12,{'text-anchor':'middle'});
  
  
 });
 const tp=lin(150,350,1095,1553);
 const td=mk(g,'path',{d:'M1095,1186 C1200,1186 1250,1180 1300,1172 C1340,1165 1380,1160 1420,1168 C1460,1176 1500,1184 1553,1186 Z',fill:'#d8d8d8',stroke:'#1a2acc','stroke-width':1});
 
 
 ax=mk(g,'line',{x1:tp(150),x2:tp(350),y1:1186,y2:1186,stroke:'#000'});
 
 
 totTicks.forEach(v=>{
  const tl=txt(g,tp(v),1202,String(v),12,{'text-anchor':'middle'});
  
  
 });
 const tv=txt(g,tp(totalI),1183,String(totalI),17,{'text-anchor':'middle',fill:'#ee1111','font-style':'italic'});
 
 
 const dm=mk(g,'path',{d:'M'+tp(totalI)+',1177 l8,9 l-8,9 l-8,-9 Z',fill:'#ee1111'});
 
 
 const probs=[['Pr( futime > 5 )',1221,1213,pr5Lab,pr5X,'0.409',false],['Pr( futime > 3 )',1246,1238,pr3Lab,pr3X,'0.471',true],['Pr( futime > 1 )',1273,1265,pr1Lab,pr1X,'0.791',true]];
 probs.forEach(p=>{
  const t=txt(g,937,p[1],p[0],17,{'font-style':p[6]?'italic':'normal'});
  
  
  const l=mk(g,'line',{x1:p[4][0]-15,x2:p[4][p[4].length-1]+5,y1:p[2],y2:p[2],stroke:'#000'});
  
  
  p[3].forEach((s,i)=>{
   const tk=mk(g,'line',{x1:p[4][i],x2:p[4][i],y1:p[2],y2:p[2]+4,stroke:'#000'});
   
   
   const tl=txt(g,p[4][i],p[2]+16,s,12,{'text-anchor':'middle'});
   
   
  });
  const pv=txt(g,1362,p[2]-1,p[5],16,{'text-anchor':'middle',fill:'#ee1111','font-style':'italic'});
  
  
  const tri=mk(g,'path',{d:'M'+(tp(totalI)-8)+','+(p[2]-3)+' h16 l-8,14 Z',fill:'#ee1111'});
  
  
 });
 const dotY=[1001,1035,1070,1103];
 ptsI.forEach((v,i)=>{
  const dl=mk(g,'line',{x1:px(v),x2:px(v),y1:970,y2:dotY[i],stroke:'#ee1111','stroke-dasharray':'1.5,2'});
  
  
  const d1=mk(g,'circle',{cx:px(v),cy:970,r:5,fill:'#ee1111'});
  
  
  const d2=mk(g,'circle',{cx:px(v),cy:dotY[i],r:6,fill:'#ee1111'});
  
  
 });
 const ag=mk(g,'circle',{cx:1342,cy:1137,r:5,fill:'#ee1111'});
 
 
})();
</script>
</body></html>
